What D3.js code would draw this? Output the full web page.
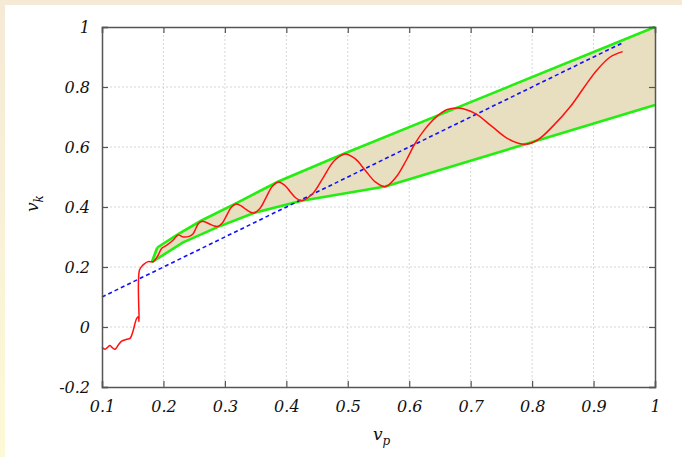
<!DOCTYPE html>
<html>
<head>
<meta charset="utf-8">
<script src="https://cdn.jsdelivr.net/npm/d3@7"></script>
<style>
  body { margin: 0; }
  svg { display: block; }
  .tick text { font-family: "DejaVu Serif", serif; font-style: italic; font-size: 16px; fill: #111; }
  .lbl { font-family: "DejaVu Serif", serif; font-style: italic; fill: #111; }
</style>
</head>
<body>
<div id="chart"></div>
<script>
// tick values
var xTicks = [0.1, 0.2, 0.3, 0.4, 0.5, 0.6, 0.7, 0.8, 0.9, 1];
var yTicks = [-0.2, 0, 0.2, 0.4, 0.6, 0.8, 1];

// red curve: v_k vs v_p
var redVp = [0.1, 0.1049, 0.1086, 0.113, 0.1174, 0.1212, 0.1265, 0.132, 0.1402, 0.1456, 0.151, 0.1537, 0.1565, 0.1591, 0.1603,
  0.161, 0.167, 0.175, 0.1835, 0.1916, 0.197, 0.205, 0.216, 0.224, 0.232, 0.243,
  0.248, 0.2525, 0.257, 0.262, 0.268, 0.275, 0.282, 0.288, 0.2955, 0.303, 0.3105, 0.318,
  0.325, 0.3325, 0.340, 0.347, 0.357, 0.367, 0.377, 0.387, 0.3965, 0.406, 0.4155, 0.425,
  0.4426, 0.4603, 0.4779, 0.4955, 0.5119, 0.5283, 0.5446, 0.561,
  0.578, 0.595, 0.609, 0.625, 0.645, 0.662, 0.68, 0.707, 0.734, 0.761, 0.7885,
  0.81, 0.835, 0.862, 0.885, 0.905, 0.927, 0.9475];
var redVk = [-0.068, -0.074, -0.069, -0.062, -0.07, -0.074, -0.06, -0.047, -0.041, -0.038, -0.01, 0.012, 0.029, 0.034, 0.018,
  0.19, 0.207, 0.218, 0.218, 0.24, 0.262, 0.272, 0.29, 0.307, 0.300, 0.303,
  0.31, 0.3275, 0.345, 0.352, 0.350, 0.3435, 0.337, 0.335, 0.346, 0.3725, 0.399, 0.41,
  0.4056, 0.395, 0.3844, 0.38, 0.395, 0.4315, 0.468, 0.483, 0.474, 0.452, 0.430, 0.421,
  0.444, 0.499, 0.554, 0.577, 0.561, 0.5225, 0.484, 0.468,
  0.498, 0.555, 0.61, 0.658, 0.702, 0.725, 0.73, 0.712, 0.6695, 0.627, 0.609,
  0.625, 0.672, 0.734, 0.80, 0.855, 0.9, 0.918];

// envelope (green) upper and lower
var upVp = [0.19, 0.224, 0.262, 0.318, 0.387, 0.4955, 0.68, 1];
var upVk = [0.265, 0.31, 0.355, 0.412, 0.485, 0.579, 0.733, 1];
var loVp = [0.181, 0.232, 0.288, 0.347, 0.425, 0.561, 0.7885, 1];
var loVk = [0.216, 0.282, 0.333, 0.38, 0.421, 0.468, 0.609, 0.74];

// blue dashed reference line v_k = v_p
var blueVp = [0.1, 0.9475];
var blueVk = [0.1, 0.9475];

var svgWidth = 682, svgHeight = 457;
var margin = {top: 27, right: 27, bottom: 70, left: 102};
var width = 655 - margin.left;
var height = 387 - margin.top;

var svg = d3.select("#chart").append("svg")
    .attr("width", svgWidth)
    .attr("height", svgHeight);

// frame background
var defs = svg.append("defs");
var grad = defs.append("linearGradient").attr("id", "bg").attr("x1", 0).attr("y1", 0).attr("x2", 0).attr("y2", 1);
grad.append("stop").attr("offset", "0%").attr("stop-color", "#f5ead6");
grad.append("stop").attr("offset", "100%").attr("stop-color", "#fdf9d6");
svg.append("rect").attr("width", svgWidth).attr("height", svgHeight).attr("fill", "url(#bg)");
svg.append("rect").attr("x", 5).attr("y", 5).attr("width", svgWidth - 5).attr("height", svgHeight - 5).attr("fill", "#fff");

var g = svg.append("g").attr("transform", `translate(${margin.left}, ${margin.top})`);

var x = d3.scaleLinear().domain([0.1, 1]).range([0, width]);
var y = d3.scaleLinear().domain([-0.2, 1]).range([height, 0]);

// grid
g.append("g").selectAll("line").data(xTicks.slice(1, -1)).enter().append("line")
    .attr("x1", d => x(d)).attr("x2", d => x(d)).attr("y1", 0).attr("y2", height)
    .attr("stroke", "#ccc").attr("stroke-width", 0.8).attr("stroke-dasharray", "2,2");
g.append("g").selectAll("line").data(yTicks.slice(1, -1)).enter().append("line")
    .attr("y1", d => y(d)).attr("y2", d => y(d)).attr("x1", 0).attr("x2", width)
    .attr("stroke", "#ccc").attr("stroke-width", 0.8).attr("stroke-dasharray", "2,2");

// band fill between envelopes
var upPts = upVp.map((v, i) => [v, upVk[i]]);
var loPts = loVp.map((v, i) => [v, loVk[i]]);
var poly = upPts.concat(loPts.slice().reverse());
g.append("path")
    .attr("d", d3.line().x(d => x(d[0])).y(d => y(d[1]))(poly) + "Z")
    .attr("fill", "#e8dfc0").attr("stroke", "none");

var lin = d3.line().x(d => x(d[0])).y(d => y(d[1]));
g.append("path").attr("d", lin(upPts)).attr("fill", "none").attr("stroke", "#22ee11").attr("stroke-width", 2.6);
g.append("path").attr("d", lin(loPts)).attr("fill", "none").attr("stroke", "#22ee11").attr("stroke-width", 2.6);
g.append("path").attr("d", lin([upPts[0], loPts[0]])).attr("fill", "none").attr("stroke", "#22ee11").attr("stroke-width", 2.6);

// blue dashed
g.append("path")
    .attr("d", lin(blueVp.map((v, i) => [v, blueVk[i]])))
    .attr("fill", "none").attr("stroke", "#1010ff").attr("stroke-width", 1.6).attr("stroke-dasharray", "4,3");

// red curve
var redPts = redVp.map((v, i) => [v, redVk[i]]);
g.append("path")
    .attr("d", d3.line().curve(d3.curveCatmullRom.alpha(0.5)).x(d => x(d[0])).y(d => y(d[1]))(redPts))
    .attr("fill", "none").attr("stroke", "#ff1010").attr("stroke-width", 1.5);

// axes with inward ticks
var fmt = d => (d === 1 ? "1" : d === 0 ? "0" : String(d));
var xAxis = g.append("g").attr("transform", `translate(0, ${height})`)
    .call(d3.axisBottom(x).tickValues(xTicks).tickSize(-6).tickPadding(14).tickFormat(fmt));
var yAxis = g.append("g")
    .call(d3.axisLeft(y).tickValues(yTicks).tickSize(-6).tickPadding(12).tickFormat(fmt));
g.append("g").call(d3.axisTop(x).tickValues(xTicks).tickSize(-6).tickFormat(""));
g.append("g").attr("transform", `translate(${width}, 0)`)
    .call(d3.axisRight(y).tickValues(yTicks).tickSize(-6).tickFormat(""));
g.selectAll(".domain").attr("stroke", "#555").attr("stroke-width", 1.5);
g.selectAll(".tick line").attr("stroke", "#555").attr("stroke-width", 1.2);
xAxis.selectAll(".tick text").attr("dy", "0.71em");
yAxis.selectAll(".tick text").attr("dy", "0.35em");

// axis titles
var xt = svg.append("text").attr("class", "lbl").attr("x", 373).attr("y", 440).attr("font-size", 17);
xt.append("tspan").text("v");
xt.append("tspan").attr("font-size", 12).attr("dy", 5).text("p");
var yt = svg.append("text").attr("class", "lbl").attr("font-size", 17)
    .attr("transform", "translate(38, 212) rotate(-90)");
yt.append("tspan").text("v");
yt.append("tspan").attr("font-size", 12).attr("dy", 5).text("k");
</script>
</body>
</html>
